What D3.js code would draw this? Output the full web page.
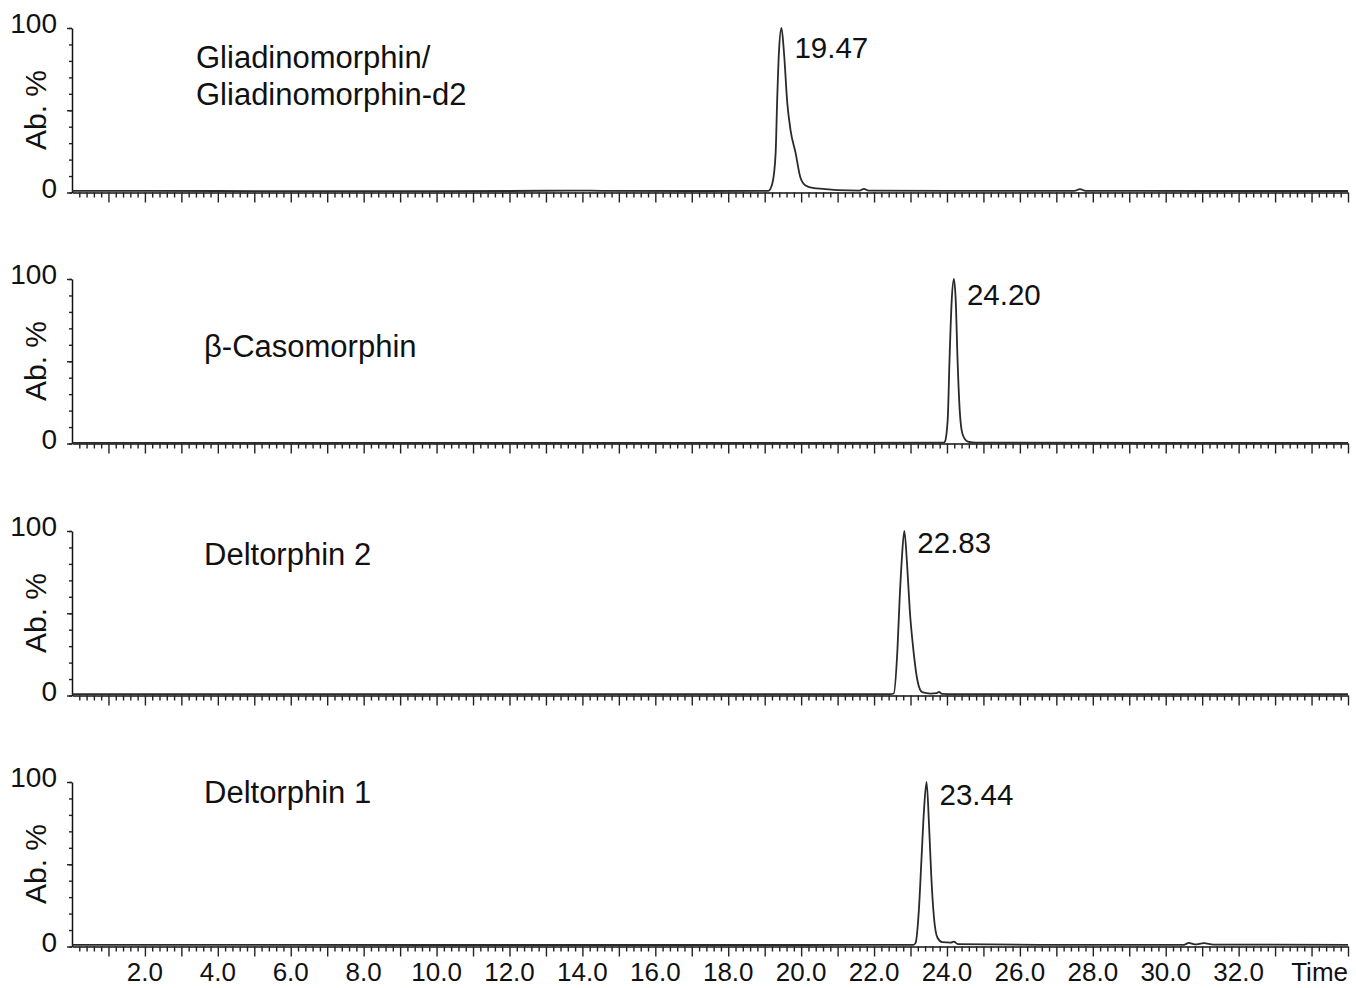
<!DOCTYPE html>
<html>
<head>
<meta charset="utf-8">
<script src="https://cdn.jsdelivr.net/npm/d3@7"></script>
<style>
  body { margin: 0; background: #fff; }
  text { font-family: "Liberation Sans", Arial, Helvetica, sans-serif; fill: #111; }
</style>
</head>
<body>
<div id="chart"></div>
<script>
// compounds, one per panel (top to bottom)
const compounds = [
  ["Gliadinomorphin/", "Gliadinomorphin-d2"],
  ["β-Casomorphin"],
  ["Deltorphin 2"],
  ["Deltorphin 1"]
];
const peakLabels = ["19.47", "24.20", "22.83", "23.44"];
const peakTimes = [19.46, 24.19, 22.83, 23.44];

// traces: [time (min), abundance %]
const traceGliadino = [
  [0, 1.0], [4, 0.9], [8, 0.8], [12, 0.9], [13.8, 1.2], [14.6, 1.0], [17, 0.9],
  [19.1, 1.0], [19.21, 5.5], [19.30, 23.8], [19.34, 54.3], [19.39, 84.8], [19.46, 100],
  [19.53, 84.8], [19.62, 54.3], [19.71, 37.8], [19.85, 23.8], [19.98, 9.1], [20.12, 4.3],
  [20.35, 2.6], [20.6, 2.2], [21.0, 1.4], [21.6, 1.2], [21.72, 2.2], [21.85, 1.2],
  [24, 1.0], [27.5, 1.0], [27.65, 2.0], [27.8, 1.0], [31, 0.9], [35, 0.9]
];
const traceCasomorphin = [
  [0, 0.4], [10, 0.4], [20, 0.4], [23.9, 0.5], [23.94, 1.0], [24.02, 14.5], [24.07, 51],
  [24.13, 87], [24.19, 100], [24.24, 87], [24.29, 51], [24.35, 20], [24.43, 5.5],
  [24.57, 1.2], [24.8, 0.5], [35, 0.4]
];
const traceDeltorphin2 = [
  [0, 0.8], [10, 0.8], [22.45, 0.8], [22.54, 1.2], [22.64, 27.4], [22.70, 57.9],
  [22.76, 82.3], [22.83, 100], [22.91, 78.2], [22.98, 51.8], [23.08, 27.4], [23.19, 9.1],
  [23.32, 2.0], [23.55, 1.2], [23.72, 1.4], [23.78, 2.2], [23.86, 1.0], [24.2, 0.8], [35, 0.8]
];
const traceDeltorphin1 = [
  [0, 1.0], [10, 0.9], [20, 0.9], [23.08, 1.0], [23.14, 2.2], [23.23, 22.4], [23.30, 52.7],
  [23.37, 83], [23.44, 100], [23.51, 72.9], [23.57, 42.6], [23.64, 18.4], [23.74, 5.3],
  [23.87, 2.6], [24.1, 2.4], [24.19, 3.0], [24.3, 1.5], [27, 1.0], [30.5, 1.0],
  [30.63, 2.2], [30.8, 1.3], [31.05, 2.0], [31.3, 1.2], [35, 1.0]
];
const traces = [traceGliadino, traceCasomorphin, traceDeltorphin2, traceDeltorphin1];

const xTickValues = [2, 4, 6, 8, 10, 12, 14, 16, 18, 20, 22, 24, 26, 28, 30, 32];
const xTickLabels = ["2.0", "4.0", "6.0", "8.0", "10.0", "12.0", "14.0", "16.0",
  "18.0", "20.0", "22.0", "24.0", "26.0", "28.0", "30.0", "32.0"];
const yTickLabels = ["0", "100"];

// layout
const svgWidth = 1356, svgHeight = 988;
const plotLeft = 72, plotRight = 1348;
const panelTops = [28, 279, 531, 782];
const panelHeight = 164.5;
const nameOffsets = [{ x: 196, y: 40 }, { x: 204, y: 78 }, { x: 204, y: 34 }, { x: 204, y: 21 }];
const peakLabelDy = [30, 26, 22, 23];

const svg = d3.select("#chart").append("svg")
  .attr("width", svgWidth)
  .attr("height", svgHeight);

svg.append("rect").attr("width", svgWidth).attr("height", svgHeight).attr("fill", "#fff");

const x = d3.scaleLinear().domain([0, 35]).range([plotLeft, plotRight]);

const minorX = d3.range(1, 176).map(i => i * 0.2).filter(v => Math.abs(v - Math.round(v)) > 1e-6);
const majorX = d3.range(1, 36);

traces.forEach((trace, i) => {
  const top = panelTops[i];
  const y = d3.scaleLinear().domain([0, 100]).range([top + panelHeight, top]);
  const g = svg.append("g");

  // x axis: minor then major ticks
  g.append("g")
    .attr("transform", `translate(0,${top + panelHeight})`)
    .call(d3.axisBottom(x).tickValues(minorX).tickSize(5).tickSizeOuter(0).tickFormat(""));
  g.append("g")
    .attr("transform", `translate(0,${top + panelHeight})`)
    .call(d3.axisBottom(x).tickValues(majorX).tickSize(10).tickSizeOuter(0).tickFormat(""))
    .select(".domain").remove();

  // y axis
  g.append("g")
    .attr("transform", `translate(${plotLeft},0)`)
    .call(d3.axisLeft(y).tickValues(d3.range(0, 101, 10)).tickSize(3).tickSizeOuter(0).tickFormat(""));
  g.append("g")
    .attr("transform", `translate(${plotLeft},0)`)
    .call(d3.axisLeft(y).tickValues([0, 50, 100]).tickSize(5).tickSizeOuter(0).tickFormat(""))
    .select(".domain").remove();

  g.selectAll(".domain").attr("stroke", "#111").attr("stroke-width", 1.5);
  g.selectAll(".tick line").attr("stroke", "#222").attr("stroke-width", 1.4);

  // y tick labels
  g.selectAll(".ylab")
    .data(yTickLabels)
    .enter().append("text")
    .attr("x", 57)
    .attr("y", d => y(+d) + 5)
    .attr("text-anchor", "end")
    .attr("font-size", 28)
    .text(d => d);

  // y title
  g.append("text")
    .attr("transform", `translate(46,${top + 82}) rotate(-90)`)
    .attr("text-anchor", "middle")
    .attr("font-size", 30)
    .text("Ab. %");

  // trace
  const line = d3.line()
    .x(d => x(d[0]))
    .y(d => y(d[1]))
    .curve(d3.curveMonotoneX);
  g.append("path")
    .datum(trace)
    .attr("d", line)
    .attr("fill", "none")
    .attr("stroke", "#2a2a2a")
    .attr("stroke-width", 1.8);

  // compound name
  const name = g.append("text")
    .attr("x", nameOffsets[i].x)
    .attr("y", top + nameOffsets[i].y)
    .attr("font-size", 31);
  compounds[i].forEach((t, k) => {
    name.append("tspan")
      .attr("x", nameOffsets[i].x)
      .attr("dy", k === 0 ? 0 : 37)
      .text(t);
  });

  // peak retention time
  g.append("text")
    .attr("x", x(peakTimes[i]) + 13)
    .attr("y", top + peakLabelDy[i])
    .attr("font-size", 29.5)
    .text(peakLabels[i]);
});

// x tick labels on the bottom panel
svg.selectAll(".xlab")
  .data(xTickValues)
  .enter().append("text")
  .attr("x", d => x(d))
  .attr("y", 981)
  .attr("text-anchor", "middle")
  .attr("font-size", 26)
  .text((d, i) => xTickLabels[i]);

svg.append("text")
  .attr("x", plotRight)
  .attr("y", 981)
  .attr("text-anchor", "end")
  .attr("font-size", 26)
  .text("Time");
</script>
</body>
</html>
